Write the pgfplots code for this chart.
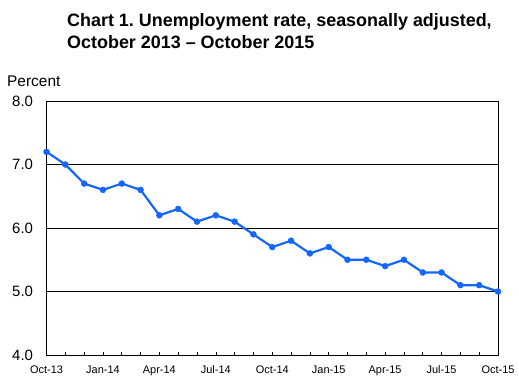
\documentclass[border=0pt]{standalone}
\usepackage{pgfplots}
\pgfplotsset{compat=1.18}
\usepackage{fontspec}
\setmainfont{Liberation Sans}
\frenchspacing
\definecolor{lineblue}{RGB}{20,102,255}
\begin{document}
\begin{tikzpicture}[x=1bp,y=1bp]
\path[use as bounding box] (-46.5,-30) rectangle (472.5,355);
\begin{axis}[
  at={(0,0)}, anchor=south west,
  scale only axis, width=451.5bp, height=254bp,
  xmin=0, xmax=24, ymin=4, ymax=8,
  xtick={0,3,...,24},
  xticklabels={Oct-13,Jan-14,Apr-14,Jul-14,Oct-14,Jan-15,Apr-15,Jul-15,Oct-15},
  minor x tick num=2,
  ytick={4,5,6,7,8},
  y tick label style={/pgf/number format/fixed, /pgf/number format/fixed zerofill, /pgf/number format/precision=1},
  /pgf/number format/assume math mode=true,
  ymajorgrids, grid style={black, line width=0.9pt},
  axis line style={black, line width=0.9pt},
  tick align=inside,
  xtick pos=bottom, ytick pos=left,
  major tick length=3.5bp, minor tick length=3bp,
  x tick style={black, line width=0.6pt},
  y tick style={draw=none},
  xticklabel style={font=\fontsize{11}{12}\selectfont, anchor=base, yshift=-18bp},
  yticklabel style={font=\fontsize{15}{16}\selectfont, anchor=east, xshift=-10bp},
  clip=false,
]
\addplot[color=lineblue, line width=2.2pt, mark=*, mark size=3bp, mark options={fill=lineblue, draw=lineblue, line width=0.4pt}]
coordinates {
(0,7.2)(1,7.0)(2,6.7)(3,6.6)(4,6.7)(5,6.6)(6,6.2)(7,6.3)(8,6.1)(9,6.2)(10,6.1)(11,5.9)
(12,5.7)(13,5.8)(14,5.6)(15,5.7)(16,5.5)(17,5.5)(18,5.4)(19,5.5)(20,5.3)(21,5.3)(22,5.1)(23,5.1)(24,5.0)
};
\end{axis}
\node[anchor=base west, font=\fontsize{15.5}{16}\selectfont, inner sep=0pt] at (-39.5,269) {Percent};
\node[anchor=base west, font=\bfseries\fontsize{18}{20}\selectfont, inner sep=0pt] at (20.5,329) {Chart 1.\ Unemployment rate, seasonally adjusted,};
\node[anchor=base west, font=\bfseries\fontsize{18}{20}\selectfont, inner sep=0pt] at (20.5,306.5) {October 2013 -- October 2015};
\end{tikzpicture}
\end{document}
